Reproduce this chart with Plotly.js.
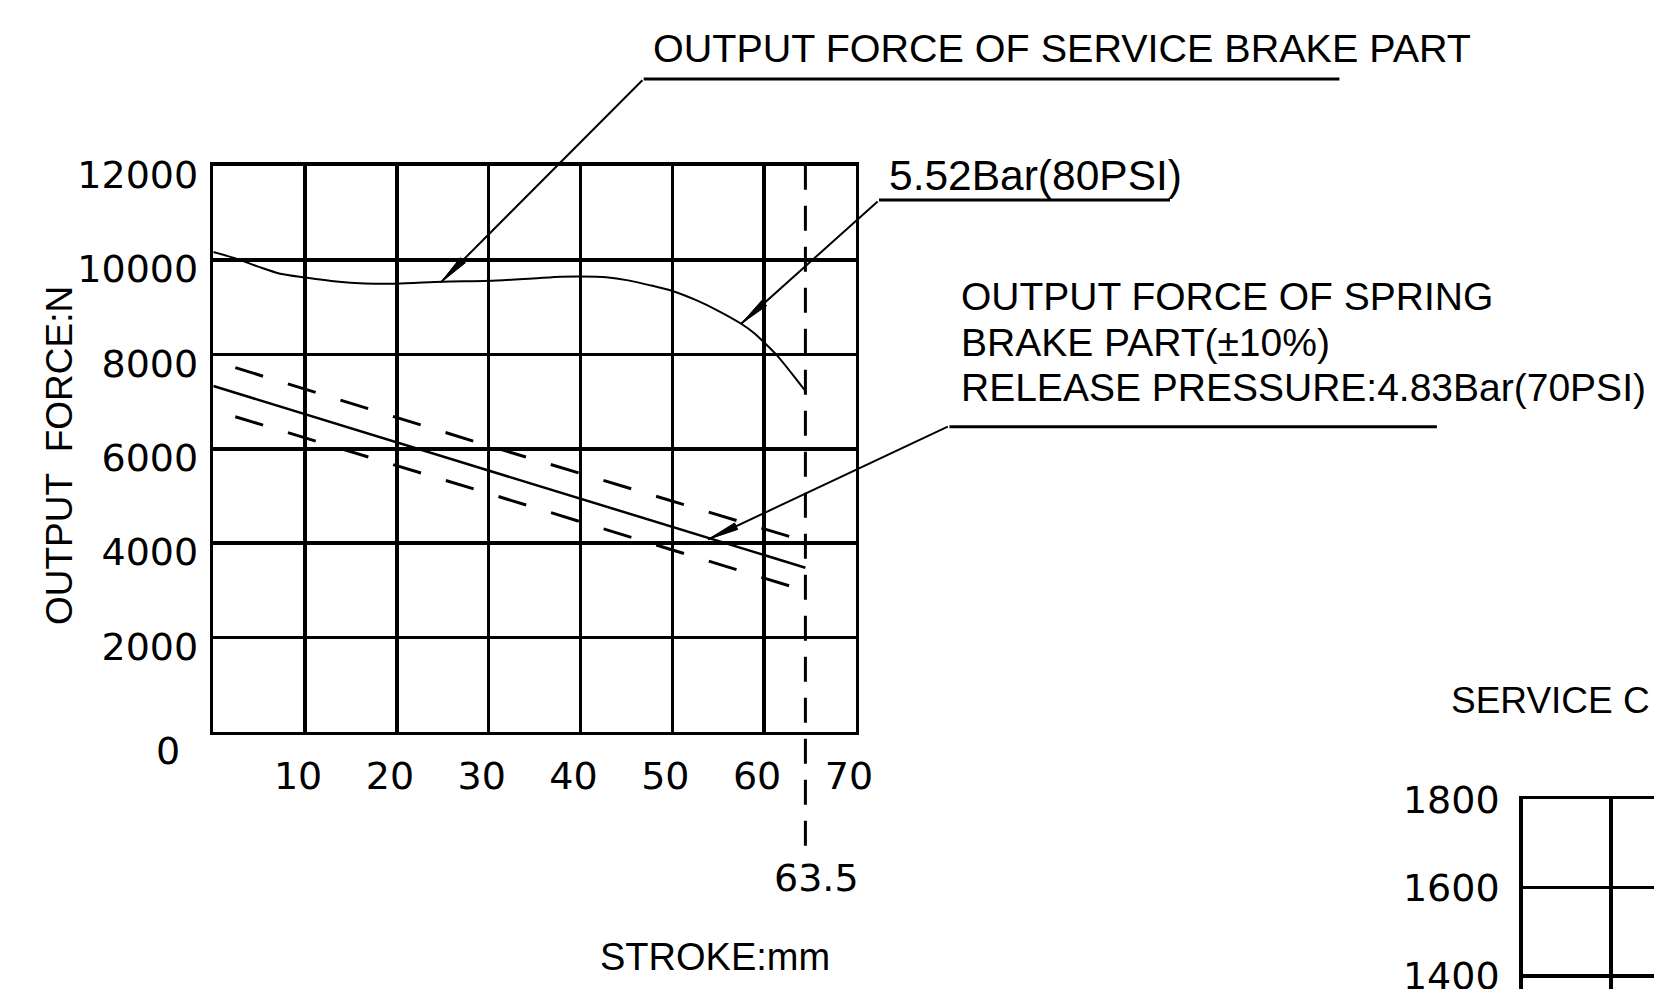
<!DOCTYPE html>
<html>
<head>
<meta charset="utf-8">
<script src="https://cdn.plot.ly/plotly-3.0.1.min.js"></script>
<style>html,body{margin:0;padding:0;background:#fff;}#chart{width:1654px;height:989px;}</style>
</head>
<body>
<div id="chart"></div>
<script>
// ---- data ----
const serviceStroke = [0, 2.5, 4.9, 7.3, 10, 13.4, 16.5, 19.9, 25, 30, 34.8, 37.9, 40, 42.8, 45.2, 47.7, 50, 52.6, 55, 57.5, 59, 60, 61.4, 63, 64.5];
const serviceForce  = [10170, 10030, 9860, 9710, 9630, 9545, 9505, 9500, 9540, 9560, 9610, 9645, 9650, 9635, 9570, 9460, 9345, 9150, 8925, 8650, 8440, 8255, 7980, 7600, 7225];

const springStroke = [0, 20, 40, 64.5];
const springForce  = [7330, 6140, 4940, 3480];
const springUpperStroke = [2.4, 29.2, 64.5];
const springUpperForce  = [7720, 6110, 4040];
const springLowerStroke = [2.4, 29.2, 64.5];
const springLowerForce  = [6680, 5100, 2990];

const strokeLimit = 64.5;          // drawn position of the 63.5 mm limit line
const strokeLimitLabel = '63.5';

const xTickVals = [10, 20, 30, 40, 50, 60, 70];
const xTickText = ['10', '20', '30', '40', '50', '60', '70'];
const yTickVals = [2000, 4000, 6000, 8000, 10000, 12000];
const yTickText = ['2000', '4000', '6000', '8000', '10000', '12000'];
const y2TickVals = [1400, 1600, 1800];
const y2TickText = ['1400', '1600', '1800'];

const titleService = 'OUTPUT FORCE OF SERVICE BRAKE PART';
const labelPressure = '5.52Bar(80PSI)';
const springLines = ['OUTPUT FORCE OF SPRING', 'BRAKE PART(\u00b110%)', 'RELEASE PRESSURE:4.83Bar(70PSI)'];
const yTitle = 'OUTPUT\u00a0 FORCE:N';
const xTitle = 'STROKE:mm';
const secondTitle = 'SERVICE C';

// ---- layout geometry (pixels of the 1654x989 page) ----
const W = 1654, H = 989;
const L = 213.3, R = 855.9, T = 165.7, B = 731.9;
const px = v => v / W;
const py = v => 1 - v / H;

const CAD = 'Liberation Sans, Arial, sans-serif';
const NUM = 'DejaVu Sans, sans-serif';
const BLACK = '#000';
const LW = 3.5;

const traces = [
  {x: serviceStroke, y: serviceForce, mode: 'lines', line: {color: BLACK, width: 2, shape: 'spline', smoothing: 0.8}},
  {x: springStroke, y: springForce, mode: 'lines', line: {color: BLACK, width: 2.5}},
  {x: springUpperStroke, y: springUpperForce, mode: 'lines', line: {color: BLACK, width: 3, dash: '29px,26px'}},
  {x: springLowerStroke, y: springLowerForce, mode: 'lines', line: {color: BLACK, width: 3, dash: '29px,26px'}},
  {x: [], y: [], xaxis: 'x2', yaxis: 'y2', mode: 'lines'}
];

// leaders: tip on the curve (data) and tail offset (pixels)
const leaders = [
  {x: 24.8, y: 9530, ax: 202.9, ay: -203.5},
  {x: 57.5, y: 8650, ax: 138, ay: -123.6},
  {x: 53.9, y: 4080, ax: 241.2, ay: -113.5}
];

function textAnn(text, x, y, size, family, xanchor, angle) {
  return {text: text, xref: 'paper', yref: 'paper', x: px(x), y: py(y), xanchor: xanchor || 'left', yanchor: 'middle',
          textangle: angle || 0, showarrow: false, font: {family: family || CAD, size: size, color: BLACK}};
}

const annotations = [
  textAnn(titleService, 651, 48.3, 39.5),
  textAnn(labelPressure, 887, 175, 42.5),
  textAnn(springLines[0], 958.5, 296.7, 39),
  textAnn(springLines[1], 958.5, 342.5, 39),
  textAnn(springLines[2], 958.5, 388, 39),
  textAnn(secondTitle, 1449, 700.7, 37),
  textAnn('0', 167.5, 751, 38, NUM, 'center'),
  textAnn(xTitle, 715, 957, 38, CAD, 'center'),
  textAnn(strokeLimitLabel, 816, 878, 38, NUM, 'center'),
  textAnn(yTitle, 59, 456, 37, CAD, 'center', -90)
];
leaders.forEach(l => annotations.push({
  text: '', xref: 'x', yref: 'y', x: l.x, y: l.y, ax: l.ax, ay: l.ay, showarrow: true,
  arrowhead: 0, arrowwidth: 2, arrowcolor: BLACK, standoff: 0, startstandoff: 0
}));

function underline(x0, x1, y) {
  return {type: 'line', xref: 'paper', yref: 'paper', x0: px(x0), x1: px(x1), y0: py(y), y1: py(y), line: {color: BLACK, width: 3}};
}
function arrowHead(l) {
  const len = Math.hypot(l.ax, l.ay);
  const ux = l.ax / len, uy = -l.ay / len;
  const Lh = 31, Wh = 3.6;
  const bx = ux * Lh, by = uy * Lh, qx = -uy * Wh, qy = ux * Wh;
  return {type: 'path', xref: 'x', yref: 'y', xsizemode: 'pixel', ysizemode: 'pixel', xanchor: l.x, yanchor: l.y,
          path: `M0,0L${(bx + qx).toFixed(2)},${(by + qy).toFixed(2)}L${(bx - qx).toFixed(2)},${(by - qy).toFixed(2)}Z`,
          fillcolor: BLACK, line: {color: BLACK, width: 1}};
}

const shapes = [
  underline(643.7, 1339.4, 79),
  underline(879, 1170, 200),
  underline(949.5, 1436.9, 426.7),
  {type: 'line', xref: 'x', yref: 'paper', x0: strokeLimit, x1: strokeLimit, y0: py(T - 1), y1: py(846),
   line: {color: BLACK, width: 3, dash: '25px,16px'}}
].concat(leaders.map(arrowHead));

const axisCommon = {showgrid: true, gridcolor: BLACK, gridwidth: LW, showline: true, linecolor: BLACK, linewidth: LW,
                    zeroline: false, ticks: '', fixedrange: true};

const layout = {
  width: W, height: H,
  margin: {l: 0, r: 0, t: 0, b: 0, pad: 0},
  paper_bgcolor: '#fff', plot_bgcolor: '#fff',
  showlegend: false, hovermode: false,
  xaxis: Object.assign({}, axisCommon, {
    domain: [px(L), px(R)], range: [0, 70], anchor: 'y', mirror: true,
    tickmode: 'array', tickvals: xTickVals, ticktext: xTickText,
    tickfont: {family: NUM, size: 38, color: BLACK}, ticklabelshift: -7, ticklabelstandoff: 8
  }),
  yaxis: Object.assign({}, axisCommon, {
    domain: [py(B), py(T)], range: [0, 12000], anchor: 'x', mirror: true,
    tickmode: 'array', tickvals: yTickVals, ticktext: yTickText,
    tickfont: {family: NUM, size: 38, color: BLACK}, ticklabelshift: 9, ticklabelstandoff: 4
  }),
  xaxis2: Object.assign({}, axisCommon, {
    domain: [px(1522.7), 1], range: [0, 14.87], anchor: 'y2', side: 'top',
    tickmode: 'array', tickvals: [10], showticklabels: false
  }),
  yaxis2: Object.assign({}, axisCommon, {
    domain: [0, py(799.3)], range: [1370.3, 1800], anchor: 'x2',
    tickmode: 'array', tickvals: y2TickVals, ticktext: y2TickText, ticklabeloverflow: 'allow',
    tickfont: {family: NUM, size: 38, color: BLACK}, ticklabelstandoff: 12
  }),
  annotations: annotations,
  shapes: shapes
};

Plotly.newPlot('chart', traces, layout, {displayModeBar: false, staticPlot: true});
</script>
</body>
</html>
